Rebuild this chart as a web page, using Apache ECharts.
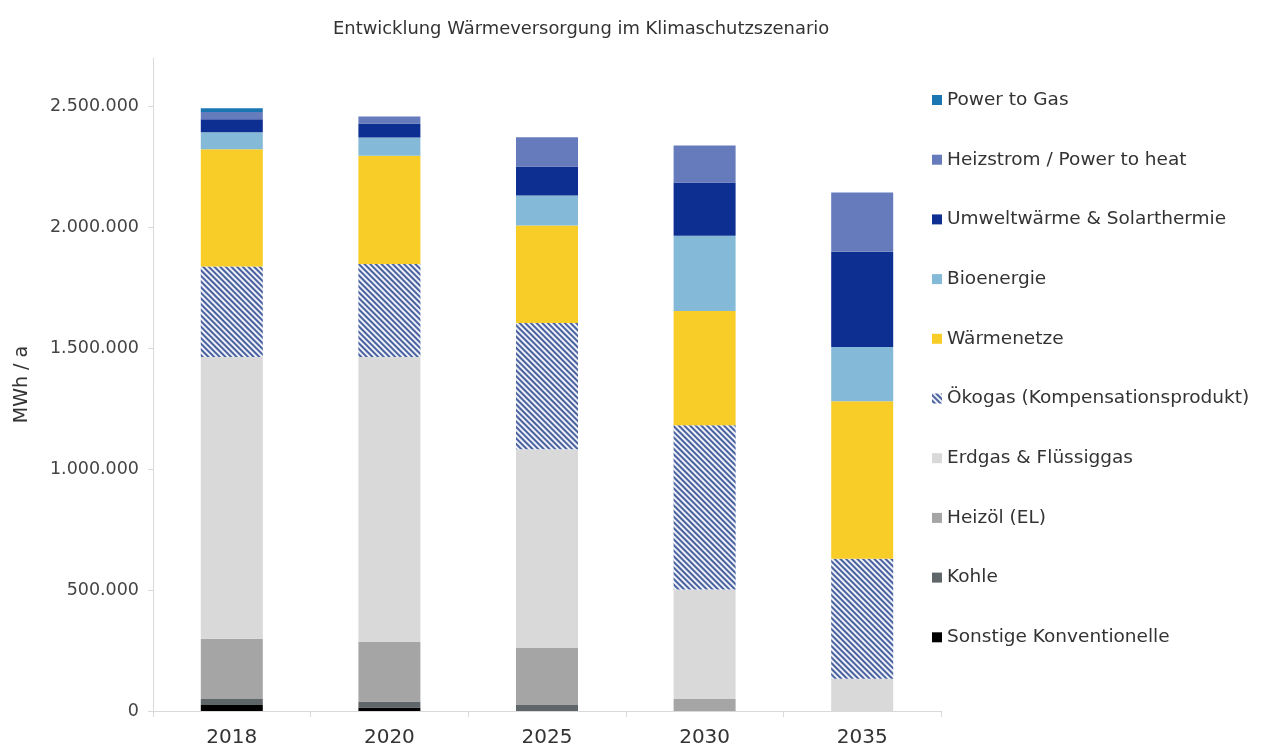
<!DOCTYPE html>
<html lang="de" style="height: 100%">
<head>
  <meta charset="utf-8">
</head>
<body style="height: 100%; margin: 0; background: #fff">
  <div id="container" style="height: 100%"></div>

  <script type="text/javascript" src="https://fastly.jsdelivr.net/npm/echarts@6/dist/echarts.min.js"></script>

  <script type="text/javascript">
    // Daten (MWh / a)
    var years = ['2018', '2020', '2025', '2030', '2035'];
    var sonstige   = [25000, 14000, 0, 0, 0];
    var kohle      = [25000, 25000, 25000, 0, 0];
    var heizoel    = [249000, 246000, 236000, 50000, 0];
    var erdgas     = [1165000, 1179000, 821000, 452000, 133000];
    var oekogas    = [374000, 384000, 522000, 680000, 497000];
    var waermenetze = [485000, 448000, 403000, 472000, 651000];
    var bioenergie = [70000, 75000, 124000, 311000, 224000];
    var umwelt     = [54000, 58000, 120000, 220000, 394000];
    var heizstrom  = [30000, 29000, 121000, 153000, 245000];
    var p2g        = [15000, 0, 0, 0, 0];
    var yTicks = [0, 500000, 1000000, 1500000, 2000000, 2500000];

    var font = 'DejaVu Sans';
    var dom = document.getElementById('container');
    var myChart = echarts.init(dom, null, { renderer: 'canvas' });

    function bar(name, data, color, decal) {
      var s = {
        name: name,
        type: 'bar',
        stack: 'total',
        barWidth: 62,
        data: data,
        itemStyle: { color: color }
      };
      if (decal) s.itemStyle.decal = decal;
      return s;
    }

    var hatch = {
      symbol: 'rect',
      color: '#4a61a0',
      backgroundColor: '#eef1f7',
      dashArrayX: [1, 0],
      dashArrayY: [2, 2],
      symbolSize: 1,
      rotation: Math.PI / 4
    };

    var series = [
      bar('Sonstige Konventionelle', sonstige, '#000000'),
      bar('Kohle', kohle, '#5f666a'),
      bar('Heizöl (EL)', heizoel, '#a5a5a5'),
      bar('Erdgas & Flüssiggas', erdgas, '#d9d9d9'),
      bar('Ökogas (Kompensationsprodukt)', oekogas, '#eef1f7', hatch),
      bar('Wärmenetze', waermenetze, '#f8cd28'),
      bar('Bioenergie', bioenergie, '#84bad7'),
      bar('Umweltwärme & Solarthermie', umwelt, '#0e2f92'),
      bar('Heizstrom / Power to heat', heizstrom, '#667bbb'),
      bar('Power to Gas', p2g, '#1a76b3')
    ];

    var option = {
      backgroundColor: '#fff',
      animation: false,
      title: {
        text: 'Entwicklung Wärmeversorgung im Klimaschutzszenario',
        left: 328,
        top: 15,
        textStyle: { fontFamily: font, fontSize: 17.9, fontWeight: 'normal', color: '#333' }
      },
      legend: {
        orient: 'vertical',
        left: 932,
        top: 90,
        padding: 0,
        itemWidth: 10,
        itemHeight: 10,
        itemGap: 39.7,
        icon: 'rect',
        data: series.map(function (s) { return s.name; }).reverse(),
        textStyle: { fontFamily: font, fontSize: 18.5, color: '#333', lineHeight: 20 }
      },
      grid: { left: 153, right: 324, top: 58, bottom: 34, outerBoundsMode: 'none' },
      xAxis: {
        type: 'category',
        data: years,
        axisLine: { lineStyle: { color: '#d9d9d9' } },
        axisTick: { show: true, length: 6, lineStyle: { color: '#d9d9d9' } },
        axisLabel: { fontFamily: font, fontSize: 20, color: '#333', margin: 17 }
      },
      yAxis: {
        type: 'value',
        min: 0,
        max: 2700000,
        interval: 500000,
        name: 'MWh / a',
        nameLocation: 'middle',
        nameGap: 121,
        nameTextStyle: { fontFamily: font, fontSize: 19, color: '#333' },
        axisLine: { show: true, lineStyle: { color: '#d9d9d9' } },
        axisTick: { show: true, length: 5, lineStyle: { color: '#d9d9d9' } },
        splitLine: { show: false },
        axisLabel: {
          fontFamily: font,
          fontSize: 17.5,
          color: '#444',
          margin: 14,
          showMaxLabel: false,
          formatter: function (v) {
            if (yTicks.indexOf(v) < 0) return '';
            return v.toString().replace(/\B(?=(\d{3})+(?!\d))/g, '.');
          }
        }
      },
      series: series
    };

    myChart.setOption(option);
    window.addEventListener('resize', myChart.resize);
  </script>
</body>
</html>
